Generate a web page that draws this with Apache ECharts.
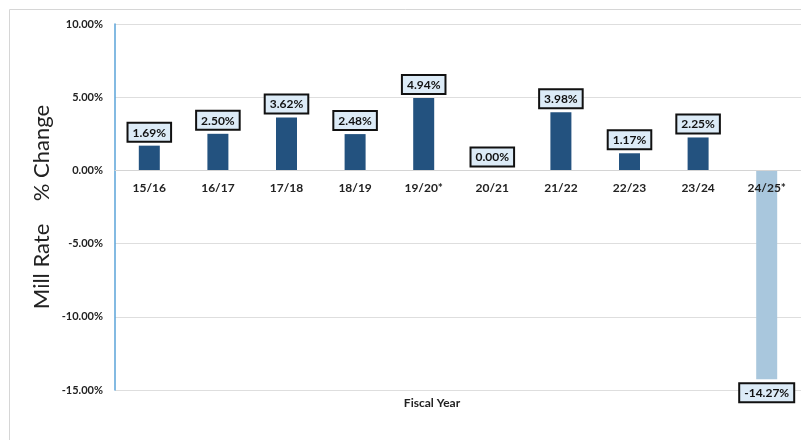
<!DOCTYPE html>
<html><head><meta charset="utf-8">
<script src="https://cdn.jsdelivr.net/npm/echarts@6/dist/echarts.min.js"></script>
<style>html,body{margin:0;padding:0;background:#fff}#c{width:801px;height:440px}</style>
</head><body><div id="c"></div>
<script>
var categories = ['15/16','16/17','17/18','18/19','19/20*','20/21','21/22','22/23','23/24','24/25*'];
var values = [1.69, 2.50, 3.62, 2.48, 4.94, 0.00, 3.98, 1.17, 2.25, -14.27];
var yTicks = {min: -15, max: 10, interval: 5};
var FONT = 'Lato, "Open Sans", sans-serif';

var chart = echarts.init(document.getElementById('c'));
var data = values.map(function (v, i) {
  var neg = v < 0;
  return {
    value: v,
    itemStyle: { color: neg ? '#a9c7dd' : '#23527f' },
    label: { position: neg ? 'bottom' : 'top' }
  };
});
var plotTop = 24, plotBottom = 390;
var zeroOffset = (plotBottom - plotTop) * (0 - yTicks.min) / (yTicks.max - yTicks.min);
chart.setOption({
  animation: false,
  grid: { left: 115, right: 0, top: plotTop, bottom: 440 - plotBottom },
  xAxis: {
    type: 'category', data: categories, offset: -zeroOffset, z: 10,
    axisLine: { onZero: false, lineStyle: { color: '#d4d4d4', width: 1 } },
    axisTick: { show: false },
    axisLabel: { color: '#222', fontWeight: 'bold', fontSize: 12, fontFamily: FONT, margin: 12 }
  },
  yAxis: {
    type: 'value', min: yTicks.min, max: yTicks.max, interval: yTicks.interval,
    axisLine: { show: true, lineStyle: { color: '#5aa3d8', width: 1.5 } },
    axisTick: { show: false },
    splitLine: { lineStyle: { color: '#dedede' } },
    axisLabel: { color: '#222', fontWeight: 'bold', fontSize: 11, fontFamily: FONT, margin: 12,
      formatter: function (v) { return v.toFixed(2) + '%'; } }
  },
  series: [{
    type: 'bar', data: data, barWidth: 21, z: 3,
    label: {
      show: true, distance: 5, fontWeight: 'bold', fontSize: 12, fontFamily: FONT, color: '#111',
      backgroundColor: '#dcebf7', borderColor: '#111', borderWidth: 2, padding: [3, 4, 2, 4],
      formatter: function (p) { return p.value.toFixed(2) + '%'; }
    }
  }],
  graphic: [
    { type: 'rect', shape: { x: 9.5, y: 9.5, width: 800, height: 440 }, style: { fill: 'none', stroke: '#d6d6d6', lineWidth: 1 }, silent: true },
    { type: 'text', x: 42, y: 207, rotation: Math.PI / 2,
      style: { text: 'Mill Rate    % Change', font: '22px ' + FONT, fill: '#222', align: 'center', verticalAlign: 'middle' } },
    { type: 'text', x: 432, y: 403,
      style: { text: 'Fiscal Year', font: 'bold 12px ' + FONT, fill: '#222', align: 'center', verticalAlign: 'middle' } }
  ]
});
</script></body></html>
